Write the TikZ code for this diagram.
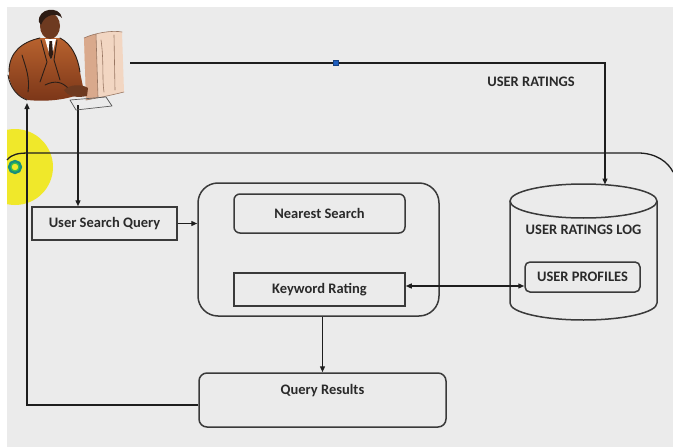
\documentclass[tikz,border=0pt]{standalone}
\usepackage{fontspec}
\setmainfont{Carlito}
\usetikzlibrary{arrows.meta}
\definecolor{bg}{HTML}{EBEBEB}
\definecolor{linec}{HTML}{1E1E1E}
\definecolor{boxc}{HTML}{3A3A3A}
\definecolor{txtc}{HTML}{2A2A2A}
\definecolor{hl}{HTML}{F0E82A}
\definecolor{ringc}{HTML}{178F7A}
\definecolor{ringi}{HTML}{3FBF4A}
\definecolor{handlec}{HTML}{1F5FC0}
\definecolor{jacketL}{HTML}{B8622E}
\definecolor{jacketD}{HTML}{7A3518}
\definecolor{skin}{HTML}{6E3A20}
\definecolor{hair}{HTML}{2E1C14}
\definecolor{mon}{HTML}{F2D6C2}
\definecolor{monD}{HTML}{D9A98C}
\definecolor{clipline}{HTML}{2A1E18}
\begin{document}
\begin{tikzpicture}[x=1pt,y=-1pt,
  conn/.style={draw=linec, line width=1.3pt},
  tip/.style={-{Triangle[length=6pt,width=5pt]}},
  twotips/.style={{Triangle[length=6pt,width=5pt]}-{Triangle[length=6pt,width=5pt]}},
  lbl/.style={font=\fontsize{14.5}{16}\selectfont\bfseries, text=txtc, inner sep=0pt},
  box/.style={draw=boxc, line width=1.5pt, inner sep=0pt, lbl},
  clip outline/.style={draw=clipline, line width=0.9pt, line cap=round, line join=round}]
\useasboundingbox (0,0) rectangle (673,447);
\fill[white] (0,0) rectangle (673,447);
\fill[bg] (7,7) rectangle (673,447);

% pointer highlight with its ring
\begin{scope}
  \clip (7,7) rectangle (673,447);
  \fill[hl] (15,167) circle [radius=38];
  \draw[ringc, line width=3.2pt] (15,167) circle [radius=5.5];
  \draw[ringi, line width=1.2pt] (15,167) circle [radius=4];
\end{scope}

% system boundary
\draw[conn] (7,160) .. controls (12,154) and (18,153) .. (30,153) -- (638,153)
  .. controls (656,153) and (668,162) .. (673,172);

% boxes
\node[box, minimum width=145pt, minimum height=33pt] (usq) at (104.5,223.5) {User Search Query};
\node[box, rounded corners=20pt, minimum width=241pt, minimum height=133pt] (core) at (318.5,249.5) {};
\node[box, rounded corners=6pt, minimum width=171pt, minimum height=39pt] (near) at (319.5,213.5) {Nearest Search};
\node[box, minimum width=171pt, minimum height=33pt] (kw) at (319.5,289.5) {Keyword Rating};
\node[box, rounded corners=8pt, minimum width=247pt, minimum height=54pt,
      text height=10pt, text depth=22pt] (qr) at (322.5,400) {Query Results};

% ratings store (cylinder)
\node[inner sep=0pt, minimum width=147pt, minimum height=136pt] (log) at (583.5,252) {};
\draw[boxc, line width=1.5pt] (583.5,201) ellipse [x radius=73.5, y radius=17];
\draw[boxc, line width=1.5pt] (510,201) -- (510,303)
  arc [start angle=180, end angle=0, x radius=73.5, y radius=17] -- (657,201);
\node[lbl] (logtitle) at (583.5,230) {USER RATINGS LOG};
\node[box, rounded corners=5pt, minimum width=115pt, minimum height=30pt] (prof) at (582.5,277) {USER PROFILES};

\node[lbl] (ratlbl) at (531,82) {USER RATINGS};

% connector end points at the user figure
\coordinate (userR) at (130,63);
\coordinate (userB) at (27,103);
\coordinate (userD) at (78,105);
\coordinate (login) at (605,184.5);

% connectors
\draw[conn, tip] (userR) -| (login);
\node[draw=handlec!70!black, fill=handlec, line width=0.5pt, minimum size=5pt, inner sep=0pt] (handle) at (336,63) {};
\draw[conn, tip] (userD) -- (userD |- usq.north);
\draw[conn, tip] (usq.east) -- (usq.east -| core.west);
\draw[conn, twotips] ([yshift=3.5pt]kw.east) -- ([yshift=3.5pt]kw.east -| prof.west);
\draw[conn, tip] (qr.north |- core.south) -- (qr.north);
\draw[conn, tip] ([yshift=-5pt]qr.west) -| (userB);

% user at the computer
\fill[mon] (84,38) .. controls (95,33) and (112,30) .. (122,32) -- (124,92)
  .. controls (112,95) and (96,98) .. (86,100) -- cycle;
\fill[monD] (84,38) .. controls (88,36) and (92,35) .. (96,34) -- (98,97) .. controls (94,98) and (90,99) .. (86,100) -- cycle;
\draw[clip outline, draw=monD!70!black, line width=0.6pt] (84,38) .. controls (95,33) and (112,30) .. (122,32);
\draw[clip outline, draw=monD!70!black, line width=0.6pt] (96,34) -- (98,97);
\draw[clip outline, draw=monD!70!black, line width=0.6pt] (101,40) .. controls (104,60) and (102,80) .. (104,92);
\draw[clip outline, draw=monD!70!black, line width=0.6pt] (114,35) -- (115,90);
\draw[clip outline, draw=monD!70!black, line width=0.6pt] (86,100) .. controls (98,98) and (112,95) .. (124,92);

\shade[top color=jacketL, bottom color=jacketD] (9,72) .. controls (9,52) and (22,42) .. (40,38)
  -- (60,38) .. controls (72,44) and (78,58) .. (80,72) -- (84,92)
  .. controls (70,100) and (45,102) .. (28,100) .. controls (16,96) and (9,86) .. (9,72) -- cycle;
\draw[clip outline] (9,72) .. controls (9,52) and (22,42) .. (40,38);
\draw[clip outline] (8,75) .. controls (10,88) and (18,97) .. (27,100);
\draw[clip outline] (60,38) .. controls (72,44) and (78,58) .. (80,72);
\draw[clip outline] (41,40) -- (47,62) -- (40,82);
\draw[clip outline] (57,40) -- (54,60) -- (60,80);
\draw[clip outline] (22,55) .. controls (26,68) and (30,78) .. (28,92);
\draw[clip outline] (45,85) .. controls (55,80) and (62,82) .. (68,88);
\fill[white] (45,39) -- (56,39) -- (51,60) -- cycle;
\fill[hair] (49.5,41) -- (52,41) -- (53,54) -- (51,60) -- (48.5,54) -- cycle;
\fill[skin] (50,26) ellipse [x radius=10, y radius=13];
\fill[hair] (39,22) .. controls (37,8) and (60,5) .. (62,18)
  .. controls (58,13) and (45,13) .. (41,25) -- cycle;
\fill[skin] (64,90) .. controls (70,84) and (82,84) .. (88,88) -- (87,96)
  .. controls (78,98) and (68,97) .. (64,90) -- cycle;
\draw[clip outline, draw=gray!70!black, line width=0.7pt] (70,100) -- (106,97) -- (112,106) -- (76,110) -- cycle;
\end{tikzpicture}
\end{document}
